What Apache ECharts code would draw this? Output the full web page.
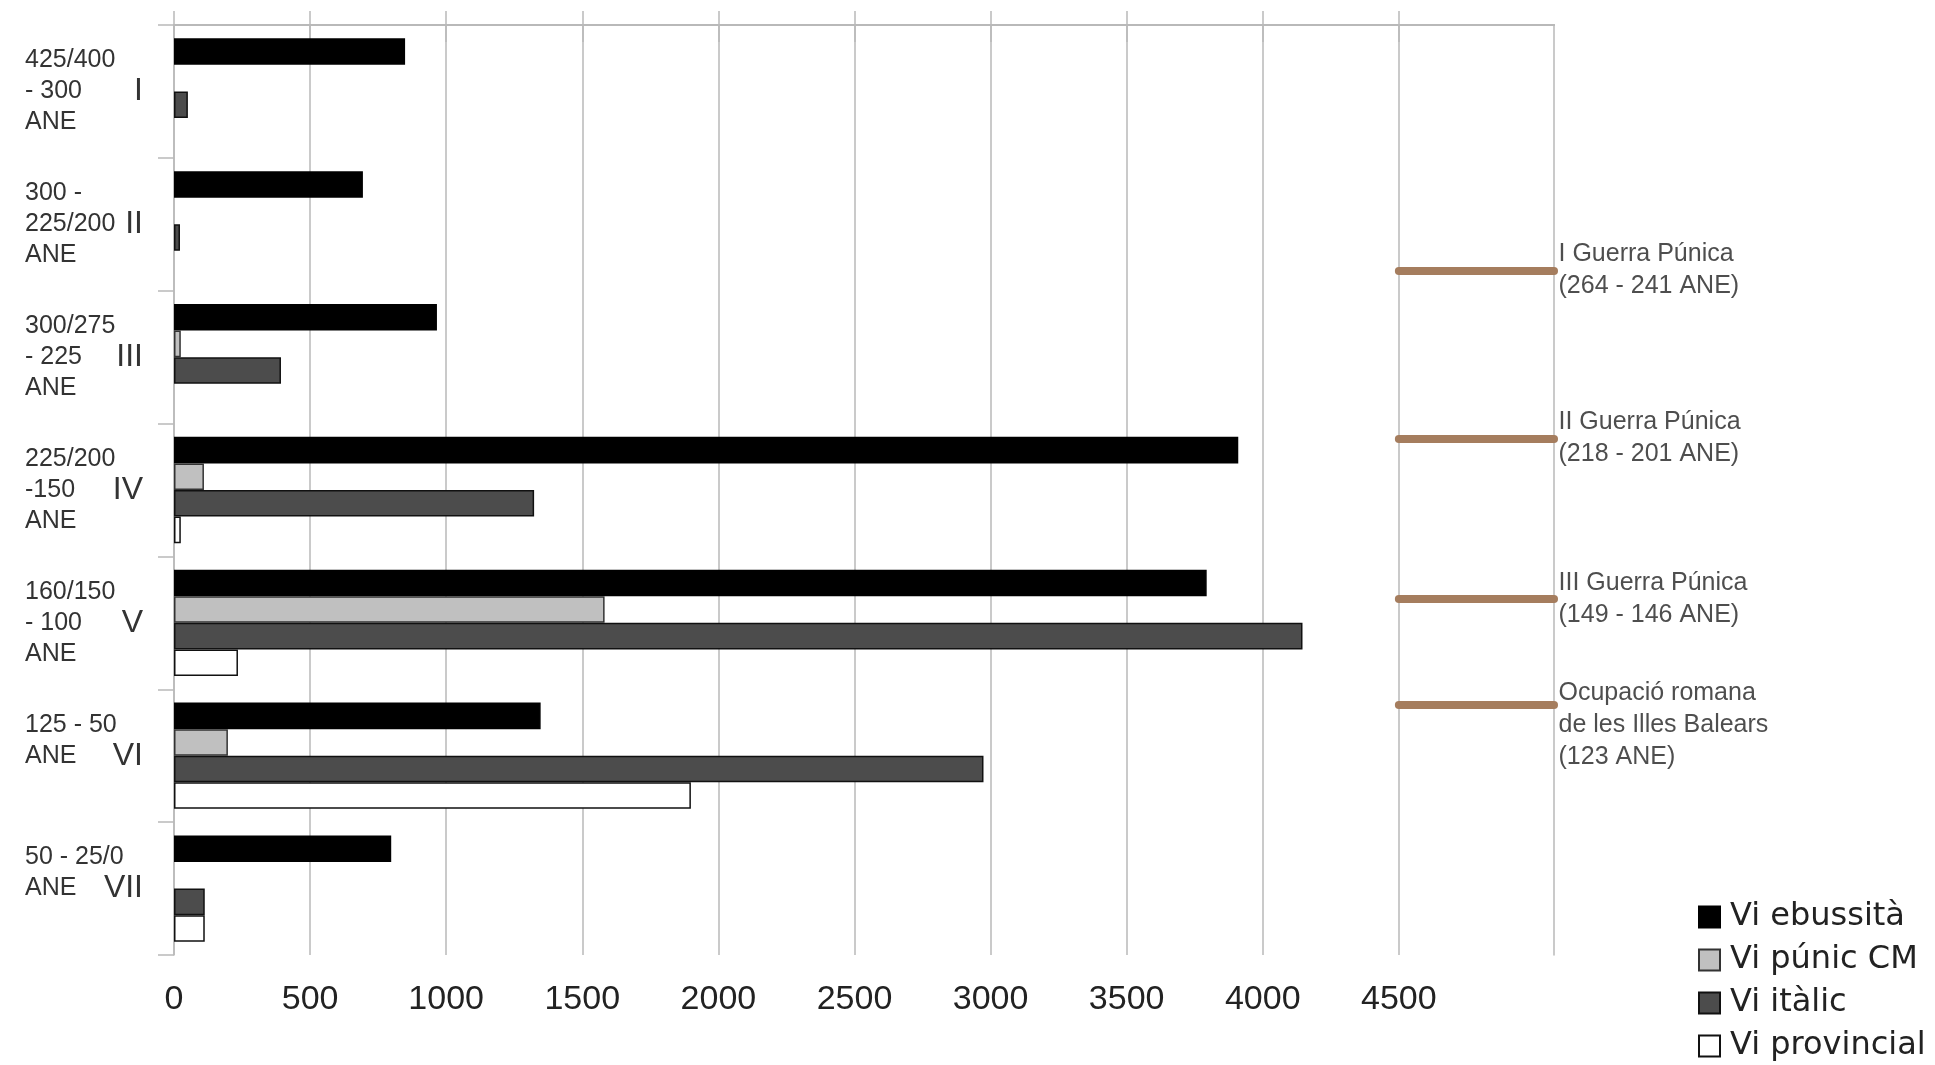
<!DOCTYPE html>
<html>
<head>
<meta charset="utf-8">
<script src="https://cdn.jsdelivr.net/npm/echarts@6/dist/echarts.min.js"></script>
<style>
  html, body { margin: 0; padding: 0; background: #ffffff; }
  #chart { width: 1935px; height: 1065px; }
</style>
</head>
<body>
<div id="chart"></div>
<script>
// ---- data ----
const periodLabels = [
  '425/400\n- 300\nANE',
  '300 -\n225/200\nANE',
  '300/275\n- 225\nANE',
  '225/200\n-150\nANE',
  '160/150\n- 100\nANE',
  '125 - 50\nANE',
  '50 - 25/0\nANE'
];
const romanLabels = ['I', 'II', 'III', 'IV', 'V', 'VI', 'VII'];
const seriesNames = ['Vi ebussità', 'Vi púnic CM', 'Vi itàlic', 'Vi provincial'];
const viEbussita   = [849, 694, 966, 3910, 3794, 1347, 798];
const viPunic      = [null, null, 25, 110, 1582, 198, null];
const viItalic     = [51, 22, 393, 1323, 4146, 2974, 113];
const viProvincial = [null, null, null, 25, 235, 1899, 113];
const tickValues = [0, 500, 1000, 1500, 2000, 2500, 3000, 3500, 4000, 4500];
const xMax = 5070;
const eventLabels = [
  'I Guerra Púnica\n(264 - 241 ANE)',
  'II Guerra Púnica\n(218 - 201 ANE)',
  'III Guerra Púnica\n(149 - 146 ANE)',
  'Ocupació romana\nde les Illes Balears\n(123 ANE)'
];
// position of each event on the period timeline (0 = top of period I, 7 = bottom of VII)
const eventPos = [1.846, 3.112, 4.318, 5.117];
const eventFrom = 4500;

// ---- chart ----
const chart = echarts.init(document.getElementById('chart'), null, { renderer: 'canvas' });
const gridColor = '#b9b9b9';
const textColor = '#222222';
const font = '"Liberation Sans", Arial, sans-serif';

const seriesData = [viEbussita, viPunic, viItalic, viProvincial];
const fills = ['#000000', '#c0c0c0', '#4c4c4c', '#ffffff'];
const borders = ['#000000', '#333333', '#111111', '#111111'];

const barSeries = seriesData.map((d, i) => ({
  name: seriesNames[i],
  type: 'bar',
  xAxisIndex: 0,
  yAxisIndex: 0,
  data: d,
  barGap: '0%',
  barCategoryGap: '20%',
  itemStyle: { color: fills[i], borderColor: borders[i], borderWidth: 1.5 },
  emphasis: { disabled: true },
  animation: false
}));

const eventLineSeries = {
  type: 'lines',
  coordinateSystem: 'cartesian2d',
  xAxisIndex: 0,
  yAxisIndex: 2,
  polyline: false,
  silent: true,
  animation: false,
  clip: false,
  z: 5,
  lineStyle: { color: '#a57d5e', width: 8, cap: 'round', opacity: 1 },
  data: eventPos.map(p => ({ coords: [[eventFrom, p], [xMax, p]] }))
};

const eventLabelSeries = {
  type: 'scatter',
  xAxisIndex: 0,
  yAxisIndex: 2,
  symbolSize: 1,
  itemStyle: { color: 'rgba(0,0,0,0)' },
  silent: true,
  animation: false,
  clip: false,
  z: 6,
  label: {
    show: true,
    position: 'right',
    distance: 4,
    formatter: p => eventLabels[p.dataIndex],
    color: textColor,
    fontFamily: font,
    fontSize: 25,
    lineHeight: 32,
    align: 'left',
    verticalAlign: 'middle'
  },
  data: eventPos.map((p, i) => ({
    value: [xMax, p],
    label: eventLabels[i].split('\n').length > 2 ? { offset: [0, 20] } : {}
  }))
};

const option = {
  backgroundColor: '#ffffff',
  animation: false,
  grid: {
    left: 174, right: 1935 - 1554, top: 25, bottom: 1065 - 955,
    containLabel: false, outerBoundsMode: 'none'
  },
  legend: {
    orient: 'vertical',
    left: 1698,
    top: 900,
    padding: 0,
    itemWidth: 21,
    itemHeight: 21,
    itemGap: 9,
    icon: 'rect',
    data: seriesNames,
    selectedMode: false,
    textStyle: { fontFamily: '"DejaVu Sans", sans-serif', fontSize: 32, lineHeight: 34, color: textColor, padding: [0, 0, 0, 5] }
  },
  xAxis: [
    {
      type: 'value', position: 'bottom', min: 0, max: xMax, interval: 500,
      axisLine: { show: true, lineStyle: { color: gridColor, width: 2 } },
      axisTick: { show: true, length: 17, customValues: tickValues, lineStyle: { color: gridColor, width: 1.5 } },
      axisLabel: {
        show: true, customValues: tickValues, margin: 28, fontFamily: font, fontSize: 34, color: textColor,
        formatter: v => String(v)
      },
      splitLine: { show: true, lineStyle: { color: gridColor, width: 1.5 } }
    },
    {
      type: 'value', position: 'top', min: 0, max: xMax, interval: 500,
      axisLine: { show: true, lineStyle: { color: gridColor, width: 2 } },
      axisTick: { show: true, length: 14, customValues: tickValues, lineStyle: { color: gridColor, width: 1.5 } },
      axisLabel: { show: false },
      splitLine: { show: false }
    }
  ],
  yAxis: [
    {
      type: 'category', position: 'left', inverse: true,
      data: periodLabels,
      axisLine: { show: true, lineStyle: { color: gridColor, width: 1.5 } },
      axisTick: { show: true, length: 16, lineStyle: { color: gridColor, width: 1.5 } },
      axisLabel: {
        align: 'left', margin: 149, fontFamily: font, fontSize: 25, lineHeight: 31,
        color: '#333333', verticalAlign: 'middle',
        // two-line labels sit on the upper part of the band, like the original
        formatter: v => (v.split('\n').length < 3 ? v + '\n ' : v)
      },
      splitLine: { show: false }
    },
    {
      type: 'category', position: 'left', inverse: true,
      data: romanLabels,
      axisLine: { show: false },
      axisTick: { show: false },
      axisLabel: { align: 'right', margin: 31, fontFamily: font, fontSize: 32, color: '#333333' },
      splitLine: { show: false }
    },
    {
      type: 'value', position: 'right', inverse: true, min: 0, max: 7,
      axisLine: { show: true, lineStyle: { color: gridColor, width: 1.5 } },
      axisTick: { show: false },
      axisLabel: { show: false },
      splitLine: { show: false }
    }
  ],
  series: barSeries.concat([eventLineSeries, eventLabelSeries])
};

chart.setOption(option);
</script>
</body>
</html>
